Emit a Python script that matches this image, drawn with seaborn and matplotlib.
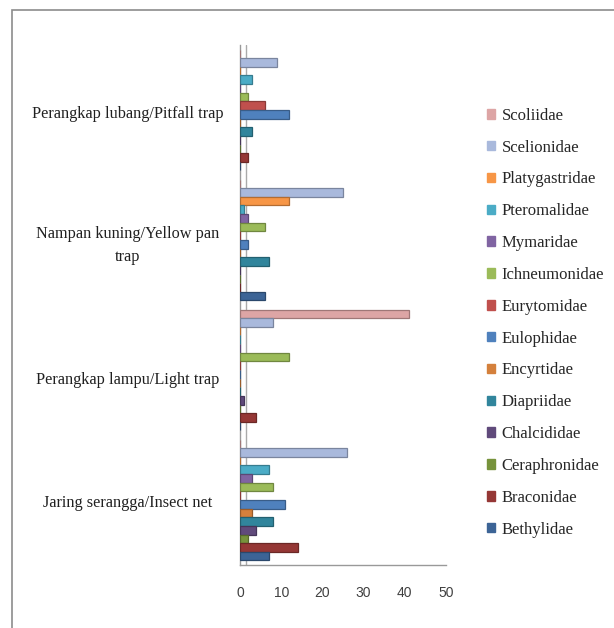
import pandas as pd
import matplotlib.pyplot as plt
import matplotlib.patches as mpatches
import matplotlib.transforms as mtransforms
import seaborn as sns

# trap types, top to bottom as in the chart
traps = ["Perangkap lubang/Pitfall trap", "Nampan kuning/Yellow pan\ntrap",
         "Perangkap lampu/Light trap", "Jaring serangga/Insect net"]

# families, top of each group to bottom
families = ["Scoliidae", "Scelionidae", "Platygastridae", "Pteromalidae", "Mymaridae",
            "Ichneumonidae", "Eurytomidae", "Eulophidae", "Encyrtidae", "Diapriidae",
            "Chalcididae", "Ceraphronidae", "Braconidae", "Bethylidae"]

# counts per family, in trap order (pitfall, yellow pan, light, insect net)
scoliidae = [0, 0, 41, 0]
scelionidae = [9, 25, 8, 26]
platygastridae = [0, 12, 0, 0]
pteromalidae = [3, 1, 0, 7]
mymaridae = [0, 2, 0, 3]
ichneumonidae = [2, 6, 12, 8]
eurytomidae = [6, 0, 0, 0]
eulophidae = [12, 2, 0, 11]
encyrtidae = [0, 0, 0, 3]
diapriidae = [3, 7, 0, 8]
chalcididae = [0, 0, 1, 4]
ceraphronidae = [0, 0, 0, 2]
braconidae = [2, 0, 4, 14]
bethylidae = [0, 6, 0, 7]

series = [scoliidae, scelionidae, platygastridae, pteromalidae, mymaridae,
          ichneumonidae, eurytomidae, eulophidae, encyrtidae, diapriidae,
          chalcididae, ceraphronidae, braconidae, bethylidae]

colors = ["#DDA5A5", "#A9B9DC", "#F79646", "#4BACC6", "#8064A2",
          "#9BBB59", "#C0504D", "#4F81BD", "#D4803C", "#31859C",
          "#604A7B", "#77933C", "#953735", "#3C6496"]

rows = []
for fam, vals in zip(families, series):
    for trap, v in zip(traps, vals):
        rows.append({"trap": trap, "family": fam, "count": v})
df = pd.DataFrame(rows)

sns.set_theme(style="white")
fig = plt.figure(figsize=(6.14, 6.28), dpi=100)
ax = fig.add_axes([240 / 614, 63 / 628, 206 / 614, 520 / 628])

sns.barplot(data=df, y="trap", x="count", hue="family", order=traps,
            hue_order=families, palette=colors, orient="h", width=0.93,
            ax=ax, saturation=1, edgecolor="none", zorder=3)

# darker edge for a bit of the 3D look
for bar in ax.patches:
    fc = bar.get_facecolor()
    bar.set_edgecolor(tuple(c * 0.72 for c in fc[:3]))
    bar.set_linewidth(0.9)

ax.set_xlim(0, 50)
ax.set_xticks([0, 10, 20, 30, 40, 50])
ax.tick_params(axis="x", labelsize=10, colors="#404040", pad=15, length=0)
for t in ax.get_xticklabels():
    t.set_fontfamily("Liberation Sans")
ax.set_xlabel("")
ax.set_ylabel("")
ax.set_yticks(range(len(traps)))
ax.set_yticklabels([])
ax.tick_params(axis="y", length=0)

trans = mtransforms.blended_transform_factory(fig.transFigure, ax.transData)
label_shift = [0.03, 0.04, 0.08, 0.02]
for i, trap in enumerate(traps):
    ax.text(128 / 614, i + label_shift[i], trap, transform=trans, ha="center",
            va="center", fontsize=11.7, family="Liberation Serif", color="#202020",
            linespacing=1.6)

for s in ["top", "right"]:
    ax.spines[s].set_visible(False)
ax.spines["left"].set_color("#999999")
ax.spines["bottom"].set_color("#999999")
ax.spines["left"].set_linewidth(1.0)
ax.spines["bottom"].set_linewidth(1.0)
# back wall edge
ax.axvline(1.4, color="#aaaaaa", lw=1.0, zorder=1)

handles = [mpatches.Patch(color=c, label=f) for f, c in zip(families, colors)]
leg = ax.legend(handles=handles, loc="center left", bbox_to_anchor=(1.125, 0.466),
                frameon=False, prop={"family": "Liberation Serif", "size": 12},
                handlelength=0.5, handleheight=0.5, handletextpad=0.4,
                labelspacing=0.95)

fig.patches.append(mpatches.Rectangle((12 / 614, -0.05), 1.0, (628 - 10) / 628 + 0.05,
                                      transform=fig.transFigure, fill=False,
                                      edgecolor="#8c8c8c", lw=1.2))

fig.savefig("out.png", dpi=100)
